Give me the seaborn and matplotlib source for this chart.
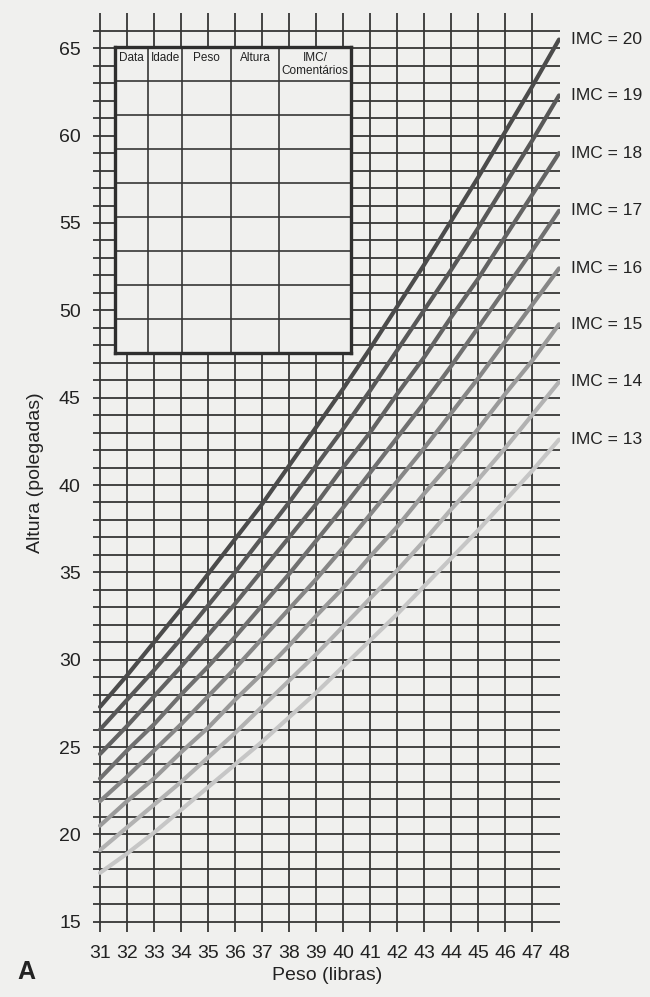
import pandas as pd
import seaborn as sns
import matplotlib.pyplot as plt

# Curves at each whole unit of the x axis
peso = [31, 32, 33, 34, 35, 36, 37, 38, 39, 40, 41, 42, 43, 44, 45, 46, 47, 48]
imc_20 = [27.3, 29.1, 31.0, 32.9, 34.9, 36.9, 38.9, 41.1, 43.3, 45.5, 47.8, 50.2, 52.6, 55.1, 57.6, 60.2, 62.8, 65.5]
imc_19 = [26.0, 27.7, 29.4, 31.2, 33.1, 35.0, 37.0, 39.0, 41.1, 43.2, 45.4, 47.7, 50.0, 52.3, 54.7, 57.2, 59.7, 62.3]
imc_18 = [24.6, 26.2, 27.9, 29.6, 31.4, 33.2, 35.1, 37.0, 38.9, 41.0, 43.0, 45.2, 47.3, 49.6, 51.8, 54.2, 56.6, 59.0]
imc_17 = [23.2, 24.8, 26.3, 28.0, 29.6, 31.3, 33.1, 34.9, 36.8, 38.7, 40.7, 42.7, 44.7, 46.8, 49.0, 51.2, 53.4, 55.7]
imc_16 = [21.9, 23.3, 24.8, 26.3, 27.9, 29.5, 31.2, 32.9, 34.6, 36.4, 38.3, 40.2, 42.1, 44.1, 46.1, 48.2, 50.3, 52.4]
imc_15 = [20.5, 21.9, 23.2, 24.7, 26.1, 27.7, 29.2, 30.8, 32.5, 34.1, 35.9, 37.6, 39.5, 41.3, 43.2, 45.2, 47.1, 49.2]
imc_14 = [19.1, 20.4, 21.7, 23.0, 24.4, 25.8, 27.3, 28.8, 30.3, 31.9, 33.5, 35.1, 36.8, 38.6, 40.3, 42.1, 44.0, 45.9]
imc_13 = [17.8, 18.9, 20.1, 21.4, 22.7, 24.0, 25.3, 26.7, 28.1, 29.6, 31.1, 32.6, 34.2, 35.8, 37.4, 39.1, 40.8, 42.6]

imc_levels = [20, 19, 18, 17, 16, 15, 14, 13]
curves = [imc_20, imc_19, imc_18, imc_17, imc_16, imc_15, imc_14, imc_13]
grays = ["#4b4b4b", "#585858", "#636363", "#707070", "#868686", "#9a9a9a", "#b2b2b2", "#c6c6c6"]

x_ticks = list(range(31, 49))
y_ticks = list(range(15, 66, 5))
table_cols = ["Data", "Idade", "Peso", "Altura", "IMC/\nComentários"]

rows = []
for imc, vals in zip(imc_levels, curves):
    for p, a in zip(peso, vals):
        rows.append({"peso": p, "altura": a, "imc": imc})
df = pd.DataFrame(rows)

sns.set_theme(style="white")
plt.rcParams["font.family"] = ["Liberation Sans", "DejaVu Sans"]
bg = "#f0f0ee"
grid_c = "#363636"
txt_c = "#222222"

fig = plt.figure(figsize=(6.5, 9.97), dpi=100, facecolor=bg)
ax = fig.add_axes([0.1435, 0.065, 0.7186, 0.9216])
ax.set_facecolor(bg)

ax.set_xlim(30.75, 48.05)
ax.set_ylim(14.4, 67)
ax.set_xticks(x_ticks)
ax.set_yticks(y_ticks)
ax.tick_params(which="both", length=0, labelsize=14, colors=txt_c)
ax.tick_params(axis="x", pad=9)
ax.tick_params(axis="y", pad=9)
for s in ax.spines.values():
    s.set_visible(False)

# paper grid: one line per unit, no vertical line at 48
for gx in range(31, 48):
    ax.axvline(gx, color=grid_c, linewidth=1.3, zorder=1)
for gy in range(15, 67):
    ax.axhline(gy, color=grid_c, linewidth=1.3, zorder=1)

sns.lineplot(data=df, x="peso", y="altura", hue="imc", palette=dict(zip(imc_levels, grays)),
             linewidth=3.0, legend=False, ax=ax, zorder=3)

for imc, vals in zip(imc_levels, curves):
    ax.text(48.45, vals[-1], f"IMC = {imc}", fontsize=12.5, color=txt_c,
            va="center", ha="left", clip_on=False)

ax.set_xlabel("Peso (libras)", fontsize=14, color=txt_c, labelpad=4)
ax.set_ylabel("Altura (polegadas)", fontsize=14, color=txt_c, labelpad=11)
fig.text(0.04, 0.025, "A", fontsize=18, fontweight="bold", color=txt_c,
         ha="center", va="center")

# record table in the top-left corner
tab = ax.inset_axes([31.56, 47.55, 8.73, 17.52], transform=ax.transData, zorder=5)
tab.set_facecolor(bg)
tab.set_xlim(0, 1)
tab.set_ylim(0, 9)
tab.set_xticks([])
tab.set_yticks([])
for s in tab.spines.values():
    s.set_linewidth(2.4)
    s.set_color("#2e2e2e")
col_edges = [0, 0.141, 0.2855, 0.492, 0.696, 1]
for xe in col_edges[1:-1]:
    tab.axvline(xe, color=grid_c, linewidth=1.2)
for r in range(1, 9):
    tab.axhline(r, color=grid_c, linewidth=1.2)
for name, x0, x1 in zip(table_cols, col_edges[:-1], col_edges[1:]):
    tab.text((x0 + x1) / 2, 8.85, name, fontsize=8.5, ha="center", va="top",
             color=txt_c, linespacing=1.1)

fig.savefig("out.png", dpi=100, facecolor=bg)
